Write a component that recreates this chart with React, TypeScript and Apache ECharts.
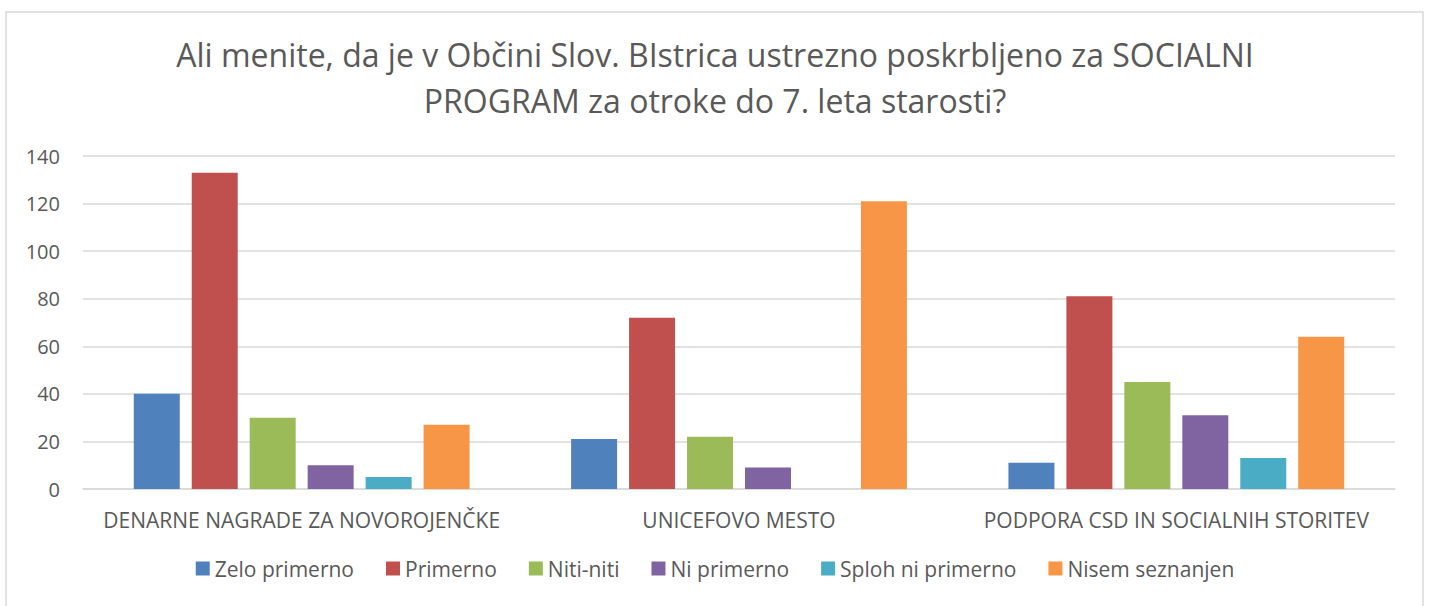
import React, { useEffect, useRef } from "react";
import * as echarts from "echarts";

const titleLines = [
  "Ali menite, da je v Občini Slov. BIstrica ustrezno poskrbljeno za SOCIALNI",
  "PROGRAM za otroke do 7. leta starosti?",
];
const categories = ["DENARNE NAGRADE ZA NOVOROJENČKE", "UNICEFOVO MESTO", "PODPORA CSD IN SOCIALNIH STORITEV"];
const seriesNames = ["Zelo primerno", "Primerno", "Niti-niti", "Ni primerno", "Sploh ni primerno", "Nisem seznanjen"];
const zeloPrimerno = [40, 21, 11];
const primerno = [133, 72, 81];
const nitiNiti = [30, 22, 45];
const niPrimerno = [10, 9, 31];
const splohNiPrimerno = [5, 0, 13];
const nisemSeznanjen = [27, 121, 64];
const colors = ["#4F81BD", "#C0504D", "#9BBB59", "#8064A2", "#4BACC6", "#F79646"];

const allValues = [zeloPrimerno, primerno, nitiNiti, niPrimerno, splohNiPrimerno, nisemSeznanjen];

export default function App() {
  const ref = useRef<HTMLDivElement>(null);
  useEffect(() => {
    if (!ref.current) return;
    const chart = echarts.init(ref.current, null, { renderer: "svg" });
    const font = "'Open Sans', sans-serif";
    const titleTops = [38, 84];
    chart.setOption({
      animation: false,
      backgroundColor: "#ffffff",
      color: colors,
      textStyle: { fontFamily: font },
      title: titleLines.map((t, i) => ({
        text: t,
        left: "center",
        top: titleTops[i],
        padding: 0,
        textStyle: {
          fontFamily: font,
          fontSize: 32,
          fontWeight: "normal",
          color: "#595959",
          lineHeight: 32,
        },
      })),
      graphic: [
        {
          type: "rect",
          shape: { x: 6, y: 12, width: 1417, height: 620 },
          style: { fill: "none", stroke: "#d9d9d9", lineWidth: 1.5 },
          silent: true,
        },
      ],
      legend: {
        data: seriesNames,
        bottom: 22,
        left: "center",
        itemWidth: 14,
        itemHeight: 14,
        itemGap: 32,
        icon: "rect",
        textStyle: { fontFamily: font, fontSize: 21, color: "#595959" },
      },
      grid: { left: 83, right: 35, top: 156, bottom: 117 },
      xAxis: {
        type: "category",
        data: categories,
        axisTick: { show: false },
        axisLine: { lineStyle: { color: "#d9d9d9", width: 1.5 } },
        axisLabel: { color: "#595959", fontSize: 21, margin: 20, fontFamily: font, interval: 0 },
      },
      yAxis: {
        type: "value",
        min: 0,
        max: 140,
        interval: 20,
        axisLine: { show: false },
        axisTick: { show: false },
        splitLine: { lineStyle: { color: "#d9d9d9", width: 1.5 } },
        axisLabel: { color: "#595959", fontSize: 20, margin: 23, fontFamily: font },
      },
      series: seriesNames.map((name, i) => ({
        name,
        type: "bar",
        data: allValues[i],
        barWidth: 46,
        barGap: "26%",
        itemStyle: { color: colors[i] },
      })),
    });
    return () => chart.dispose();
  }, []);
  return (
    <div
      ref={ref}
      style={{ position: "fixed", left: 0, top: 0, width: 1430, height: 606 }}
    />
  );
}
